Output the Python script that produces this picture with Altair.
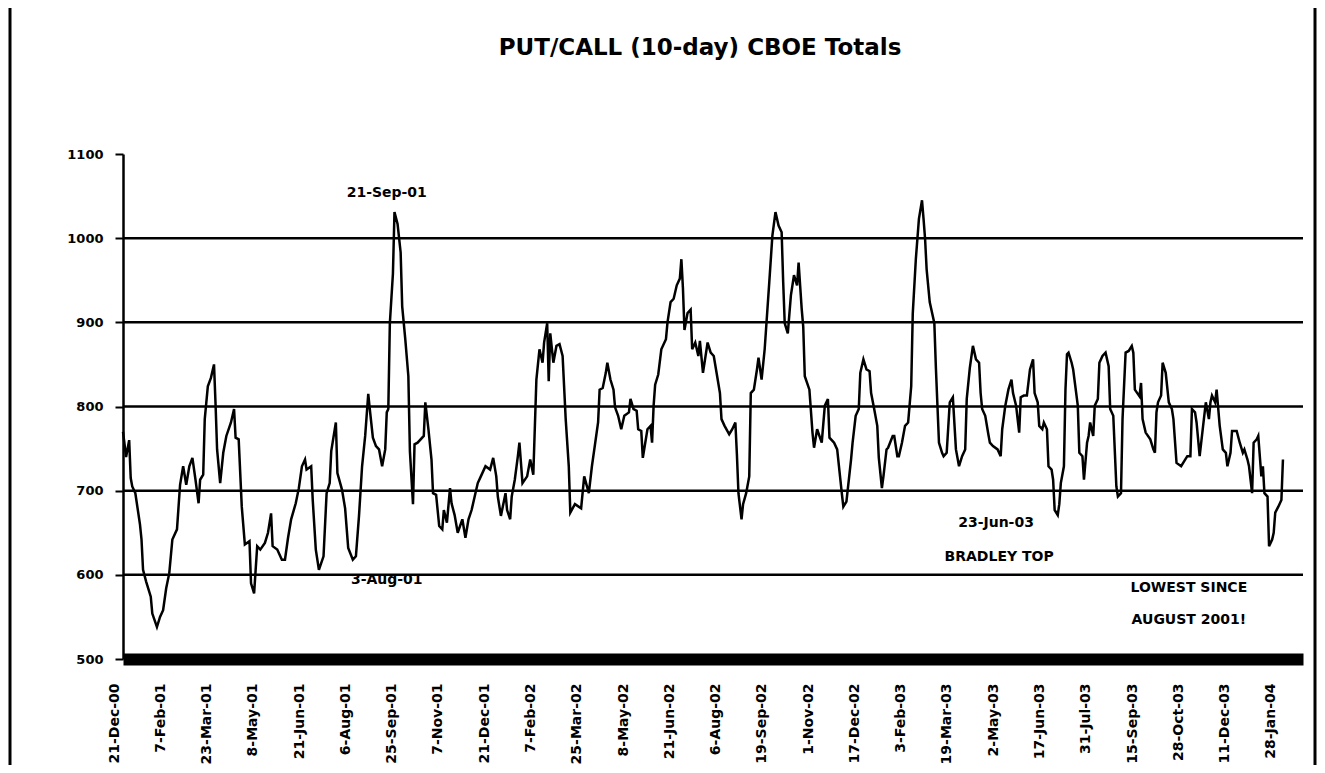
import json
import altair as alt
import pandas as pd

# ---- axis ticks / labels ----
tick_days = [0, 30, 60, 90, 120, 150, 180, 210, 240, 270, 300, 330, 360,
             390, 420, 450, 480, 510, 540, 570, 600, 630, 660, 690, 720, 750]
tick_labels = ["21-Dec-00", "7-Feb-01", "23-Mar-01", "8-May-01", "21-Jun-01",
               "6-Aug-01", "25-Sep-01", "7-Nov-01", "21-Dec-01", "7-Feb-02",
               "25-Mar-02", "8-May-02", "21-Jun-02", "6-Aug-02", "19-Sep-02",
               "1-Nov-02", "17-Dec-02", "3-Feb-03", "19-Mar-03", "2-May-03",
               "17-Jun-03", "31-Jul-03", "15-Sep-03", "28-Oct-03", "11-Dec-03",
               "28-Jan-04"]
y_ticks = [500, 600, 700, 800, 900, 1000, 1100]
grid_levels = [600, 700, 800, 900, 1000]
title_text = ["PUT/CALL (10-day) CBOE Totals"]

# ---- series: trading-day index and 10-day put/call total ----
days = [
    0, 2, 4, 5, 6, 8, 11, 12, 13, 15,
    18, 19, 22, 24, 26, 28, 30, 32, 35, 37,
    39, 41, 43, 45, 47, 49, 50, 52, 53, 55,
    57, 59, 60, 61, 63, 65, 67, 70, 72, 73,
    75, 77, 79, 82, 83, 85, 87, 89, 92, 94,
    96, 97, 100, 103, 105, 107, 109, 112, 114, 116,
    118, 119, 122, 123, 125, 127, 130, 132, 134, 135,
    138, 139, 142, 144, 146, 149, 151, 153, 155, 157,
    159, 160, 162, 164, 166, 168, 170, 171, 172, 173,
    175, 176, 178, 180, 181, 183, 185, 186, 188, 189,
    191, 195, 196, 198, 200, 201, 203, 205, 207, 208,
    210, 212, 213, 215, 217, 220, 222, 224, 226, 229,
    230, 232, 235, 238, 240, 242, 243, 245, 248, 249,
    251, 252, 254, 256, 257, 259, 262, 264, 266, 268,
    270, 272, 273, 275, 276, 277, 279, 281, 283, 285,
    287, 289, 290, 293, 297, 299, 302, 304, 306, 308,
    309, 311, 313, 314, 316, 318, 319, 321, 323, 325,
    328, 329, 331, 333, 334, 336, 337, 340, 342, 343,
    344, 345, 347, 349, 352, 353, 355, 357, 359, 361,
    362, 363, 364, 366, 368, 369, 371, 373, 374, 376,
    379, 381, 383, 385, 387, 388, 390, 393, 395, 397,
    398, 399, 401, 402, 404, 406, 407, 409, 411, 412,
    414, 416, 419, 421, 423, 425, 427, 428, 429, 431,
    433, 435, 437, 438, 440, 441, 442, 445, 447, 448,
    450, 453, 455, 457, 458, 461, 463, 466, 467, 469,
    472, 473, 475, 477, 478, 480, 482, 484, 485, 487,
    489, 490, 492, 493, 495, 496, 499, 500, 502, 503,
    505, 507, 509, 511, 512, 514, 516, 518, 519, 520,
    521, 523, 526, 527, 529, 531, 532, 534, 536, 538,
    540, 542, 544, 546, 547, 549, 551, 553, 555, 556,
    557, 559, 561, 562, 564, 567, 569, 570, 572, 574,
    576, 577, 579, 581, 582, 584, 586, 588, 590, 591,
    593, 594, 596, 597, 599, 600, 602, 603, 604, 606,
    607, 608, 610, 611, 612, 613, 615, 616, 619, 620,
    622, 623, 625, 626, 627, 629, 630, 632, 633, 635,
    637, 639, 640, 642, 644, 645, 647, 648, 650, 652,
    654, 655, 656, 659, 660, 661, 663, 666, 668, 669,
    670, 671, 673, 674, 676, 678, 680, 681, 683, 686,
    688, 690, 692, 693, 695, 696, 698, 700, 702, 704,
    705, 706, 708, 709, 711, 713, 715, 716, 718, 719,
    722, 724, 726, 727, 729, 730, 732, 733, 735, 736,
    738, 739, 740, 742, 743, 745, 746, 747, 749, 751,
    752,
]
putcall = [
    770, 740, 760, 715, 705, 697, 660, 642, 606, 592,
    574, 554, 538, 550, 558, 584, 602, 642, 654, 707,
    729, 707, 729, 739, 713, 685, 713, 719, 785, 824,
    834, 850, 803, 749, 709, 745, 765, 781, 797, 763,
    761, 681, 636, 640, 590, 578, 634, 630, 638, 650,
    673, 634, 630, 618, 618, 644, 666, 685, 703, 729,
    737, 725, 729, 689, 630, 606, 622, 697, 709, 747,
    781, 721, 701, 679, 632, 618, 622, 670, 729, 765,
    815, 797, 763, 753, 749, 729, 749, 793, 797, 899,
    958, 1031, 1017, 983, 919, 880, 836, 747, 684, 755,
    757, 765, 805, 773, 737, 697, 695, 658, 654, 677,
    662, 703, 685, 671, 650, 666, 644, 666, 677, 701,
    709, 717, 729, 725, 739, 717, 693, 670, 697, 677,
    666, 693, 713, 741, 757, 709, 717, 737, 719, 832,
    868, 852, 876, 899, 830, 887, 852, 872, 874, 860,
    785, 729, 674, 684, 679, 717, 697, 729, 755, 781,
    820, 822, 840, 852, 832, 820, 799, 789, 773, 789,
    793, 809, 797, 795, 773, 771, 739, 773, 777, 757,
    801, 826, 838, 868, 880, 900, 924, 928, 944, 952,
    975, 941, 891, 911, 915, 868, 876, 860, 878, 840,
    876, 864, 860, 838, 816, 785, 777, 767, 773, 781,
    743, 697, 666, 684, 697, 717, 816, 820, 844, 858,
    832, 868, 948, 1003, 1031, 1015, 1007, 948, 899, 887,
    932, 956, 944, 971, 916, 895, 836, 820, 769, 751,
    773, 757, 801, 809, 763, 757, 749, 697, 681, 687,
    737, 757, 789, 797, 840, 856, 844, 842, 816, 797,
    777, 739, 703, 717, 749, 751, 765, 765, 741, 741,
    757, 777, 781, 824, 910, 975, 1023, 1045, 1023, 999,
    963, 924, 899, 846, 757, 745, 741, 745, 805, 811,
    749, 729, 741, 749, 809, 846, 872, 856, 852, 816,
    797, 789, 767, 757, 753, 749, 741, 773, 801, 820,
    832, 816, 801, 769, 811, 813, 813, 844, 856, 816,
    805, 777, 773, 781, 773, 729, 725, 713, 677, 671,
    684, 709, 729, 820, 862, 864, 852, 844, 801, 745,
    741, 713, 757, 765, 781, 765, 801, 809, 852, 860,
    864, 848, 797, 789, 705, 693, 697, 785, 864, 866,
    872, 864, 820, 812, 828, 785, 769, 761, 749, 745,
    793, 805, 813, 852, 840, 805, 797, 785, 733, 729,
    735, 741, 741, 797, 793, 781, 741, 773, 805, 785,
    805, 813, 805, 820, 777, 749, 745, 729, 745, 771,
    771, 757, 745, 749, 737, 729, 697, 757, 761, 765,
    717, 729, 697, 693, 634, 642, 650, 674, 681, 689,
    737,
]

# ---- annotations ----
ann_text = ["21-Sep-01", "3-Aug-01", "23-Jun-03", "BRADLEY TOP",
            "LOWEST SINCE", "AUGUST 2001!"]
ann_day = [171, 171, 566, 568, 691, 691]
ann_val = [1054, 594, 662, 621, 584, 546]

FONT = "DejaVu Sans"
W, H = 1180, 505

df = pd.DataFrame({"day": days, "putcall": putcall})
grid_df = pd.DataFrame({"level": grid_levels})
ann_df = pd.DataFrame({"text": ann_text, "day": ann_day, "val": ann_val})
title_df = pd.DataFrame({"t": title_text})
one_df = pd.DataFrame({"k": [0]})

x_scale = alt.Scale(domain=[0, 765], nice=False, zero=False)
y_scale = alt.Scale(domain=[500, 1100], nice=False, zero=False)
label_expr = json.dumps(tick_labels) + "[round(datum.value / 30)]"

x_axis = alt.Axis(values=tick_days, labelExpr=label_expr, labelAngle=270,
                  title=None, grid=False, ticks=False,
                  domainWidth=12, domainColor="black",
                  labelFont=FONT, labelFontSize=14, labelFontWeight="bold",
                  labelColor="black", labelPadding=24, labelOffset=-9,
                  labelOverlap=False)
y_axis = alt.Axis(values=y_ticks, format="d", title=None, grid=False,
                  domainWidth=2.5, domainColor="black",
                  tickSize=8, tickWidth=2, tickColor="black",
                  labelFont=FONT, labelFontSize=13, labelFontWeight="bold",
                  labelColor="black", labelPadding=12)

grid = alt.Chart(grid_df).mark_rule(color="black", strokeWidth=2.5).encode(
    y=alt.Y("level:Q", scale=y_scale, axis=y_axis, title=None)
)

line = alt.Chart(df).mark_line(color="black", strokeWidth=2.5).encode(
    x=alt.X("day:Q", scale=x_scale, axis=x_axis, title=None),
    y=alt.Y("putcall:Q", scale=y_scale, axis=y_axis, title=None),
)

notes = alt.Chart(ann_df).mark_text(
    font=FONT, fontSize=14, fontWeight="bold", color="black",
    align="center", baseline="middle"
).encode(
    x=alt.X("day:Q", scale=x_scale, axis=x_axis, title=None),
    y=alt.Y("val:Q", scale=y_scale, axis=y_axis, title=None),
    text="text:N",
)

title = alt.Chart(title_df).mark_text(
    font=FONT, fontSize=23, fontWeight="bold", color="black",
    align="center", baseline="middle"
).encode(x=alt.value(577), y=alt.value(-106), text="t:N")

left_edge = alt.Chart(one_df).mark_rule(color="black", strokeWidth=3).encode(
    x=alt.value(-113), y=alt.value(-146), y2=alt.value(611)
)
right_edge = alt.Chart(one_df).mark_rule(color="black", strokeWidth=3).encode(
    x=alt.value(1192), y=alt.value(-146), y2=alt.value(611)
)

chart = alt.layer(grid, line, notes, title, left_edge, right_edge).properties(
    width=W,
    height=H,
    autosize=alt.AutoSizeParams(type="none"),
    padding={"left": 115, "top": 146, "right": 14, "bottom": 106},
    background="white",
).configure_view(strokeWidth=0)

chart.save("out.html", embed_options={"renderer": "svg", "actions": False})
